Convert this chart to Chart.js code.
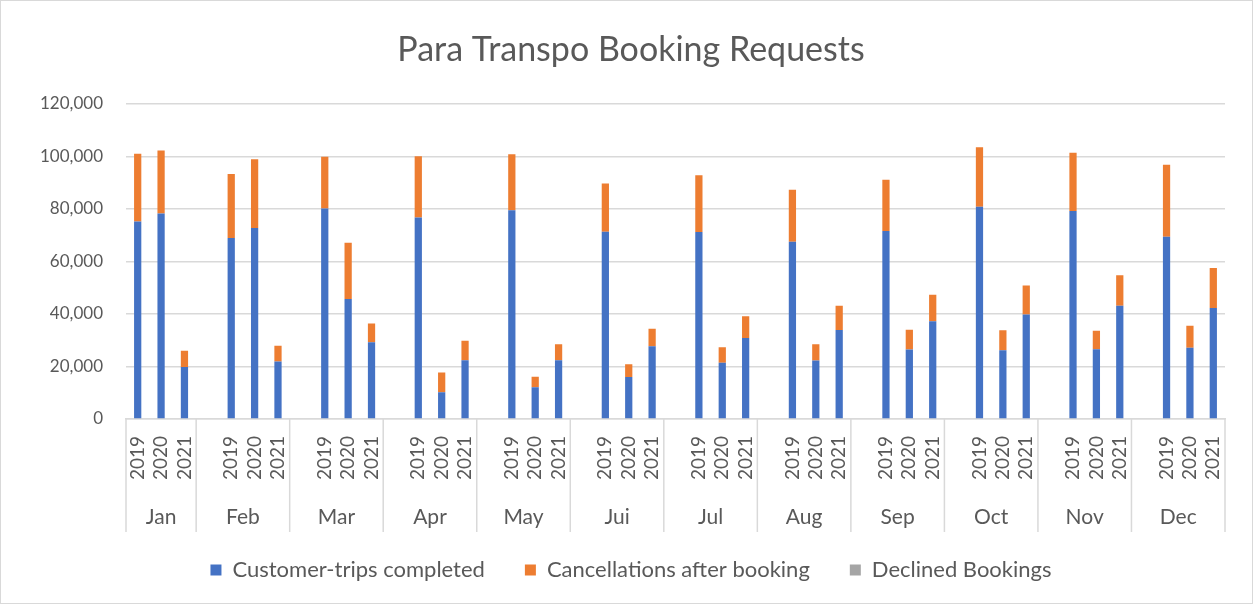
<!DOCTYPE html>
<html>
<head>
<meta charset="utf-8">
<script src="https://cdn.jsdelivr.net/npm/chart.js@4.4.1/dist/chart.umd.min.js"></script>
<style>
  html, body { margin: 0; padding: 0; background: #fff; }
  #wrap { width: 1253px; height: 604px; position: relative; }
</style>
</head>
<body>
<div id="wrap"><canvas id="booking-chart"></canvas></div>
<script>
const months = ['Jan', 'Feb', 'Mar', 'Apr', 'May', 'Jui', 'Jul', 'Aug', 'Sep', 'Oct', 'Nov', 'Dec'];
const years = ['2019', '2020', '2021'];

// one value per month/year, Jan 2019 .. Dec 2021 (grouped by month)
const completed = [
    75200, 78200, 19800,  68900, 72700, 21900,  80100, 45700, 29200,  76700, 10200, 22400,
    79500, 12100, 22400,  71300, 16000, 27700,  71200, 21400, 30800,  67500, 22300, 33900,
    71600, 26500, 37200,  80800, 26200, 39800,  79200, 26600, 43100,  69400, 27100, 42300
];
const cancellations = [
    25800, 24000, 6200,   24400, 26200, 6000,   19700, 21400, 7200,   23300, 7500, 7400,
    21300, 4000, 6100,    18400, 4800, 6700,    21600, 5900, 8300,    19800, 6200, 9200,
    19500, 7500, 10100,   22700, 7600, 11000,   22200, 7000, 11600,   27400, 8400, 15200
];
const declined = [
    0, 0, 0,  0, 0, 0,  0, 0, 0,  0, 0, 0,
    0, 0, 0,  0, 0, 0,  0, 0, 0,  0, 0, 0,
    0, 0, 0,  0, 0, 0,  0, 0, 0,  0, 0, 0
];
const yTicks = [0, 20000, 40000, 60000, 80000, 100000, 120000];

const textColor = '#595959';
const gridColor = '#D9D9D9';
const fontFamily = 'Lato, "Noto Sans", sans-serif';

// build slots: every month after Jan starts with an empty slot (like the sheet)
const slotLabels = [];
const groups = [];
const slotIndex = [];
months.forEach((m, mi) => {
    const start = slotLabels.length;
    if (mi > 0) slotLabels.push('');
    years.forEach((y, yi) => {
        slotIndex.push(slotLabels.length);
        slotLabels.push(y);
    });
    groups.push({ name: m, first: start, last: slotLabels.length - 1 });
});

function toSlots(values) {
    const out = slotLabels.map(() => null);
    values.forEach((v, i) => { out[slotIndex[i]] = v; });
    return out;
}

const frame = {
    id: 'frame',
    beforeDraw(chart) {
        const ctx = chart.ctx;
        ctx.save();
        ctx.fillStyle = '#fff';
        ctx.fillRect(0, 0, chart.width, chart.height);
        ctx.strokeStyle = gridColor;
        ctx.lineWidth = 1;
        ctx.strokeRect(0.5, 0.5, chart.width - 1, chart.height - 1);
        ctx.restore();
    }
};

// month row under the year labels, with separators between groups
const monthRow = {
    id: 'monthRow',
    afterDraw(chart) {
        const ctx = chart.ctx;
        const xs = chart.scales.x;
        const area = chart.chartArea;
        const slotW = xs.getPixelForValue(1) - xs.getPixelForValue(0);
        ctx.save();
        ctx.strokeStyle = gridColor;
        ctx.lineWidth = 1.5;
        ctx.fillStyle = textColor;
        ctx.font = '21px ' + fontFamily;
        ctx.textAlign = 'center';
        ctx.textBaseline = 'middle';
        groups.forEach((g, i) => {
            const left = xs.getPixelForValue(g.first) - slotW / 2;
            const right = xs.getPixelForValue(g.last) + slotW / 2;
            ctx.beginPath();
            ctx.moveTo(left, area.bottom);
            ctx.lineTo(left, area.bottom + 113);
            if (i === groups.length - 1) {
                ctx.moveTo(right, area.bottom);
                ctx.lineTo(right, area.bottom + 113);
            }
            ctx.stroke();
            ctx.fillText(g.name, (left + right) / 2, area.bottom + 98);
        });
        ctx.restore();
    }
};

const ctx = document.getElementById('booking-chart').getContext('2d');

new Chart(ctx, {
    type: 'bar',
    data: {
        labels: slotLabels,
        datasets: [
            {
                label: 'Customer-trips completed',
                data: toSlots(completed),
                backgroundColor: '#4472C4'
            },
            {
                label: 'Cancellations after booking',
                data: toSlots(cancellations),
                backgroundColor: '#ED7D31'
            },
            {
                label: 'Declined Bookings',
                data: toSlots(declined),
                backgroundColor: '#A5A5A5'
            }
        ]
    },
    options: {
        responsive: true,
        maintainAspectRatio: false,
        animation: false,
        datasets: {
            bar: { barPercentage: 0.31, categoryPercentage: 1 }
        },
        layout: {
            padding: { top: 10, left: 37, right: 28, bottom: 13 }
        },
        scales: {
            x: {
                stacked: true,
                offset: true,
                grid: { display: false },
                border: { color: gridColor, width: 1.5 },
                ticks: {
                    autoSkip: false,
                    maxRotation: 90,
                    minRotation: 90,
                    padding: 9,
                    color: textColor,
                    font: { family: fontFamily, size: 19 }
                },
                afterFit(scale) { scale.height = 100; }
            },
            y: {
                stacked: true,
                min: 0,
                max: 120000,
                afterBuildTicks(scale) {
                    scale.ticks = yTicks.map(v => ({ value: v }));
                },
                grid: { color: gridColor, lineWidth: 1.5, drawTicks: false },
                border: { display: false },
                ticks: {
                    padding: 23,
                    color: textColor,
                    font: { family: fontFamily, size: 17 },
                    callback: v => v.toLocaleString('en-US')
                },
                afterFit(scale) { scale.width = 89; }
            }
        },
        plugins: {
            title: {
                display: true,
                text: 'Para Transpo Booking Requests',
                color: textColor,
                font: { family: fontFamily, size: 34, weight: 'normal' },
                padding: { top: 20, bottom: 33 }
            },
            legend: {
                position: 'bottom',
                labels: {
                    boxWidth: 11,
                    boxHeight: 11,
                    padding: 40,
                    color: textColor,
                    font: { family: fontFamily, size: 22 }
                }
            },
            tooltip: { enabled: false }
        }
    },
    plugins: [frame, monthRow]
});
</script>
</body>
</html>
